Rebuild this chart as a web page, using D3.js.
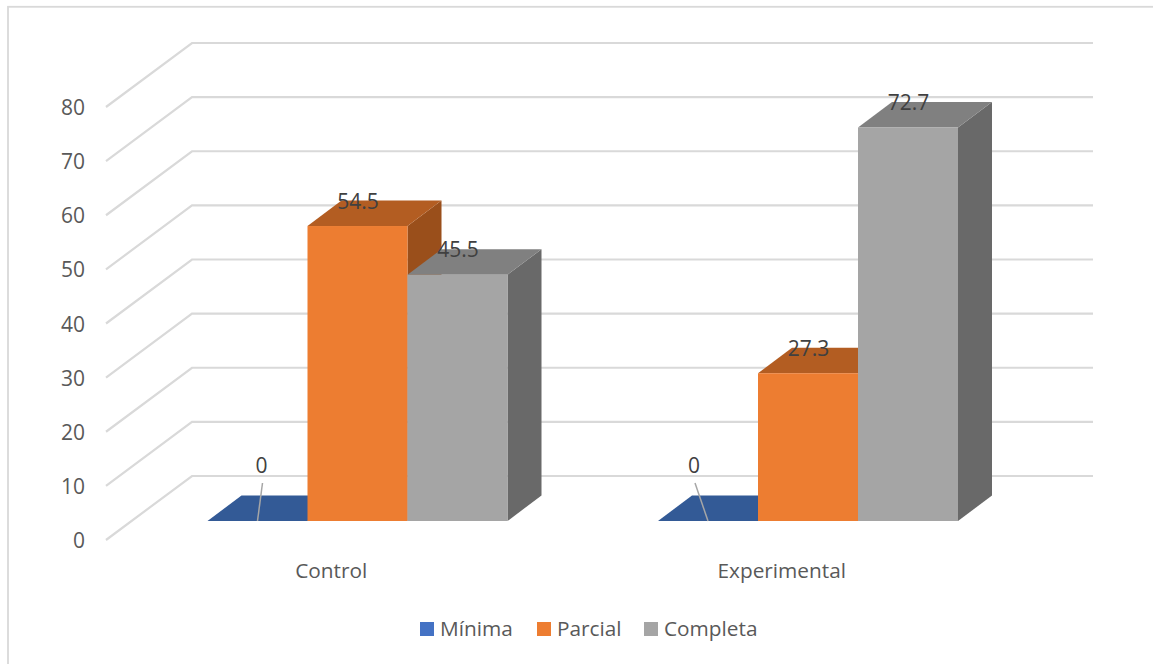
<!DOCTYPE html>
<html>
<head>
<meta charset="utf-8">
<script src="https://cdn.jsdelivr.net/npm/d3@7/dist/d3.min.js"></script>
<style>
  html, body { margin: 0; padding: 0; background: #fff; }
  svg { display: block; }
  text { font-family: "Open Sans", sans-serif; }
</style>
</head>
<body>
<svg id="chart" width="1153" height="664"></svg>
<script>
const categories = ["Control", "Experimental"];
const seriesNames = ["Mínima", "Parcial", "Completa"];
const minima = [0, 0];
const parcial = [54.5, 27.3];
const completa = [45.5, 72.7];
const seriesValues = [minima, parcial, completa];
const yTicks = [0, 10, 20, 30, 40, 50, 60, 70, 80];

const frontColors = ["#4472c4", "#ed7d31", "#a5a5a5"];
const topColors = ["#335a96", "#b35d22", "#808080"];
const sideColors = ["#2a4a7c", "#9a4f1b", "#696969"];

// Oblique projection of the floor: the wall sits behind the front edge by (wallDx, wallDy).
const wallDx = 86, wallDy = -64;
const barInsetX = 26.5, barInsetY = -19;
const barDepthX = 34, barDepthY = -25.5;

const svg = d3.select("#chart");
const x0 = d3.scaleBand().domain(categories).range([106, 1007]);
const x1 = d3.scaleBand().domain(seriesNames).range([75, 375]);
const yFront = d3.scaleLinear().domain([0, 80]).range([540, 107]);

const line = d3.line();

// Outer chart frame
svg.append("rect").attr("x", 8).attr("y", 6.8)
  .attr("width", 1200).attr("height", 800)
  .attr("fill", "none").attr("stroke", "#d9d9d9").attr("stroke-width", 1.8);

// Gridlines: slanted on the side wall, then straight across the back wall
const grid = svg.append("g");
yTicks.forEach(t => {
  const y = yFront(t);
  grid.append("path")
    .attr("d", line([
      [x0.range()[0], y],
      [x0.range()[0] + wallDx, y + wallDy],
      [x0.range()[1] + wallDx, y + wallDy]
    ]))
    .attr("fill", "none").attr("stroke", "#d9d9d9").attr("stroke-width", 2.2);
});

// Value axis labels
svg.append("g").selectAll("text").data(yTicks).join("text")
  .attr("x", 85).attr("y", d => yFront(d))
  .attr("text-anchor", "end").attr("dominant-baseline", "central")
  .attr("font-size", 21).attr("fill", "#595959").text(d => d);

// Bars, drawn left to right so nearer faces overlap correctly
const bars = svg.append("g");
categories.forEach((cat, c) => {
  seriesNames.forEach((name, s) => {
    const v = seriesValues[s][c];
    const left = x0(cat) + x1(name) + barInsetX;
    const right = left + x1.bandwidth();
    const base = yFront(0) + barInsetY;
    const top = yFront(v) + barInsetY;
    bars.append("path")
      .attr("d", line([[right, base], [right + barDepthX, base + barDepthY], [right + barDepthX, top + barDepthY], [right, top]]) + "Z")
      .attr("fill", sideColors[s]);
    bars.append("path")
      .attr("d", line([[left, top], [left + barDepthX, top + barDepthY], [right + barDepthX, top + barDepthY], [right, top]]) + "Z")
      .attr("fill", topColors[s]);
    bars.append("rect")
      .attr("x", left).attr("y", top)
      .attr("width", x1.bandwidth()).attr("height", base - top)
      .attr("fill", frontColors[s]);
  });
});

// Data labels; zero values are lifted clear of the bar with a leader line
const zeroLabelShift = { Control: 4, Experimental: -14 };
const labels = svg.append("g");
categories.forEach((cat, c) => {
  seriesNames.forEach((name, s) => {
    const v = seriesValues[s][c];
    const center = x0(cat) + x1(name) + barInsetX + x1.bandwidth() / 2;
    const base = yFront(0) + barInsetY;
    let lx = center, ly = yFront(v) + barInsetY + barDepthY;
    if (v === 0) {
      lx = center + zeroLabelShift[cat];
      ly = base - 56;
      labels.append("path")
        .attr("d", line([[lx + 1, base - 38], [center, base]]))
        .attr("stroke", "#a6a6a6").attr("stroke-width", 1.5).attr("fill", "none");
    }
    labels.append("text")
      .attr("x", lx + (v === 0 ? 0 : 0.5)).attr("y", ly)
      .attr("text-anchor", "middle").attr("dominant-baseline", "central")
      .attr("font-size", 21).attr("fill", "#404040").text(v);
  });
});

// Category axis labels
svg.append("g").selectAll("text").data(categories).join("text")
  .attr("x", d => x0(d) + x0.bandwidth() / 2).attr("y", 570)
  .attr("text-anchor", "middle").attr("dominant-baseline", "central")
  .attr("font-size", 20.8).attr("fill", "#595959").text(d => d);

// Legend
const legendSwatchX = [420, 537, 644];
const legend = svg.append("g");
seriesNames.forEach((name, s) => {
  legend.append("rect")
    .attr("x", legendSwatchX[s]).attr("y", 622)
    .attr("width", 14).attr("height", 14).attr("fill", frontColors[s]);
  legend.append("text")
    .attr("x", legendSwatchX[s] + 20).attr("y", 628)
    .attr("dominant-baseline", "central")
    .attr("font-size", 20.8).attr("fill", "#595959").text(name);
});
</script>
</body>
</html>
